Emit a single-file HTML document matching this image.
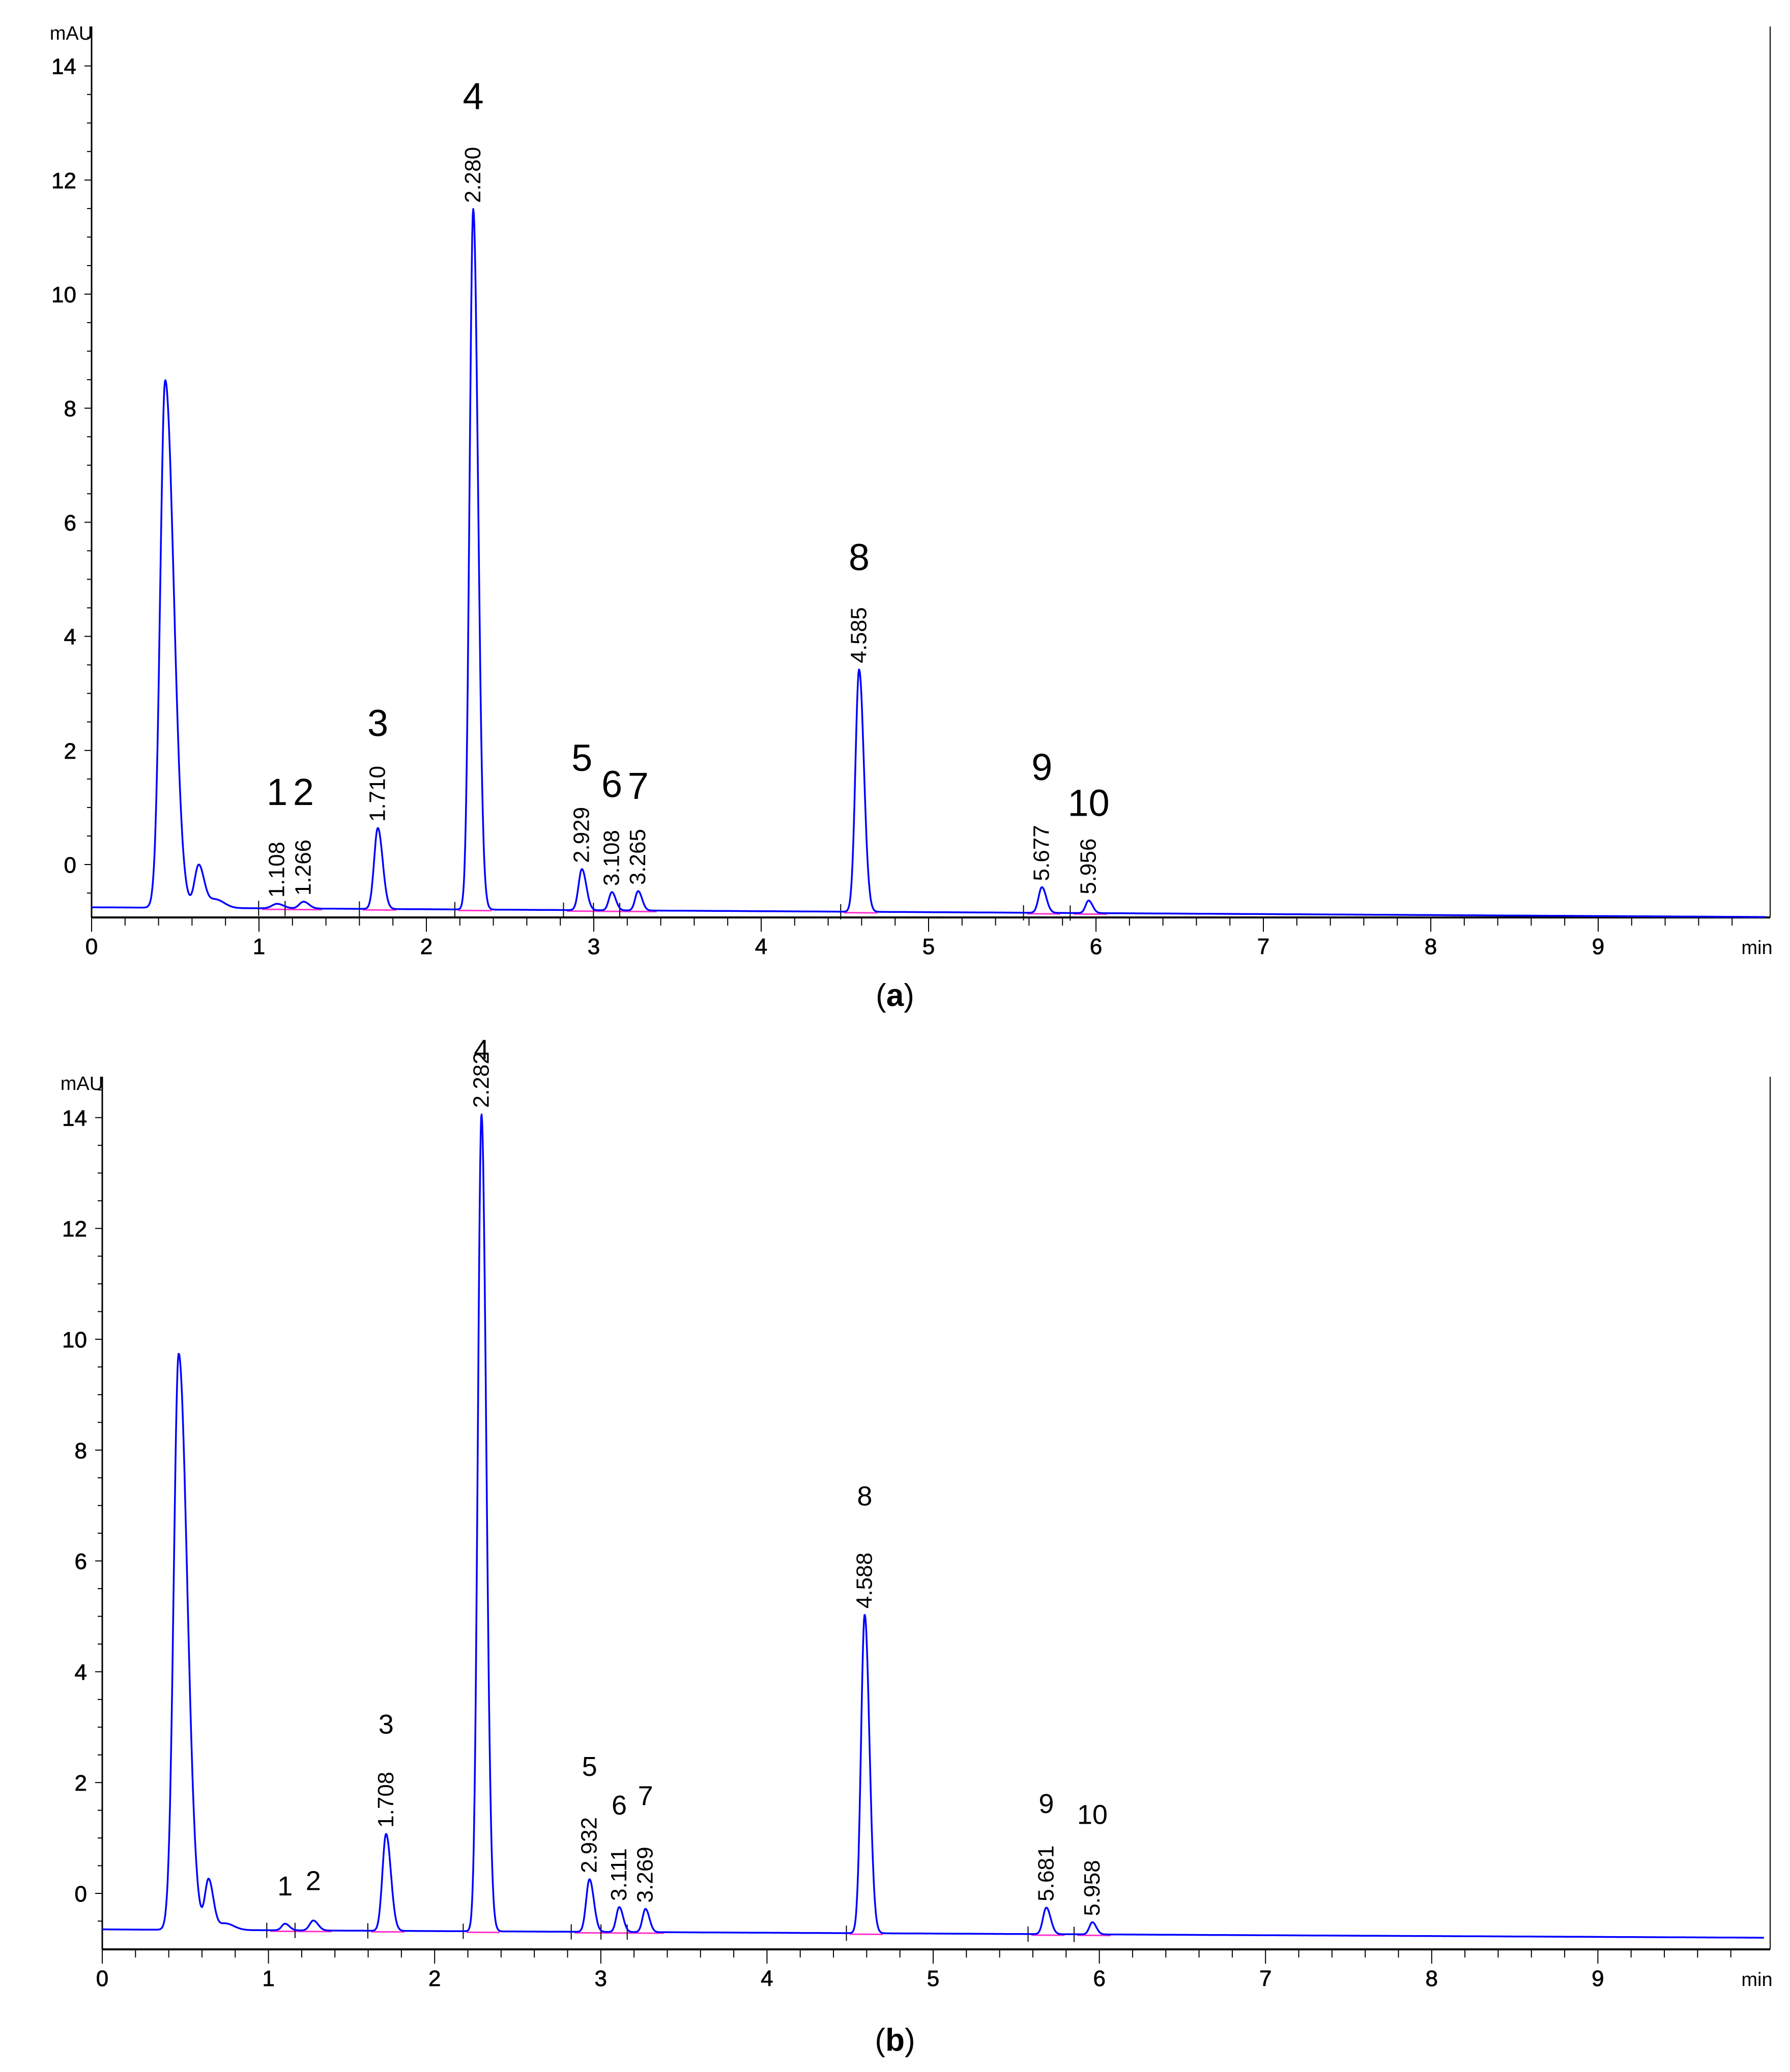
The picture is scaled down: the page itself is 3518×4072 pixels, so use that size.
<!DOCTYPE html>
<html><head><meta charset="utf-8">
<style>
html,body{margin:0;padding:0;background:#fff;}
svg{display:block;}
text{font-family:"Liberation Sans",Arial,sans-serif;}
</style></head>
<body>
<svg id="fig" width="3518" height="4072" viewBox="0 0 3518 4072" xmlns="http://www.w3.org/2000/svg"></svg>
<script>
// ---- Data: chromatogram (a) ----
const peakTimesA = [0.44, 0.64, 0.74, 1.108, 1.266, 1.710, 2.280, 2.929, 3.108, 3.265, 4.585, 5.677, 5.956];
const peakHeightsA = [9.25, 0.75, 0.15, 0.08, 0.12, 1.42, 12.28, 0.72, 0.32, 0.34, 4.25, 0.45, 0.22];
const peakWidthsA = [0.03, 0.025, 0.04, 0.03, 0.025, 0.022, 0.022, 0.02, 0.018, 0.018, 0.022, 0.02, 0.018];
const baselineStartA = -0.75, baselineEndA = -0.92;
const labelsA = ["1","2","3","4","5","6","7","8","9","10"];
const labelTimesA = [1.108,1.266,1.710,2.280,2.929,3.108,3.265,4.585,5.677,5.956];
const rtTextA = ["1.108","1.266","1.710","2.280","2.929","3.108","3.265","4.585","5.677","5.956"];
const labelYA = [1.28,1.28,2.49,13.48,1.88,1.42,1.39,5.40,1.72,1.09];

// ---- Data: chromatogram (b) ----
const peakTimesB = [0.46, 0.64, 0.74, 1.10, 1.27, 1.708, 2.282, 2.932, 3.111, 3.269, 4.588, 5.681, 5.958];
const peakHeightsB = [10.4, 0.9, 0.12, 0.12, 0.18, 1.75, 14.75, 0.95, 0.45, 0.42, 5.75, 0.48, 0.22];
const peakWidthsB = [0.03, 0.022, 0.04, 0.02, 0.022, 0.022, 0.022, 0.02, 0.018, 0.018, 0.022, 0.02, 0.018];
const baselineStartB = -0.65, baselineEndB = -0.80;
const labelsB = ["1","2","3","4","5","6","7","8","9","10"];
const labelTimesB = [1.10,1.27,1.708,2.282,2.932,3.111,3.269,4.588,5.681,5.958];
const rtTextB = ["","","1.708","2.282","2.932","3.111","3.269","4.588","5.681","5.958"];
const labelYB = [0.14,0.24,3.06,15.24,2.30,1.60,1.77,7.18,1.63,1.43];

const yTicks = [0,2,4,6,8,10,12,14];
const xTicks = [0,1,2,3,4,5,6,7,8,9];

const NS="http://www.w3.org/2000/svg";
const svg=document.getElementById('fig');
function mk(tag,attrs,parent){const e=document.createElementNS(NS,tag);for(const k in attrs)e.setAttribute(k,attrs[k]);(parent||svg).appendChild(e);return e;}

function drawPanel(cfg){
  const g=mk('g',{});
  
  
  const xs=t=>cfg.x0+t*cfg.pxMin;
  const ys=v=>cfg.y0-v*cfg.pxUnit;
  const ya=mk('line',{x1:cfg.x0,y1:cfg.top,x2:cfg.x0,y2:cfg.axisY,stroke:'#000','stroke-width':3},g);
  
  
  const xa=mk('line',{x1:cfg.x0,y1:cfg.axisY,x2:cfg.right,y2:cfg.axisY,stroke:'#000','stroke-width':4},g);
  
  
  const rb=mk('line',{x1:cfg.right,y1:cfg.top,x2:cfg.right,y2:cfg.axisY,stroke:'#000','stroke-width':2},g);
  
  
  for(let v=-0.5;v<=14.5;v+=0.5){
    const major=Math.abs(v-Math.round(v/2)*2)<1e-6;
    mk('line',{x1:cfg.x0-(major?14:9),y1:ys(v),x2:cfg.x0,y2:ys(v),stroke:'#000','stroke-width':2},g);
  }
  yTicks.forEach(v=>{
    const t=mk('text',{x:cfg.x0-30,y:ys(v)+16,'font-size':44,'text-anchor':'end',fill:'#000','stroke':'#000','stroke-width':0.8},g);
    t.textContent=v;
    
    
  });
  const mau=mk('text',{x:cfg.x0-40,y:cfg.top+26,'font-size':38,'text-anchor':'middle',fill:'#000'},g);
  mau.textContent='mAU';
  
  
  for(let i=0;i<=49;i++){
    const t=i*0.2, major=i%5===0;
    mk('line',{x1:xs(t),y1:cfg.axisY,x2:xs(t),y2:cfg.axisY+(major?28:16),stroke:'#000','stroke-width':2},g);
  }
  xTicks.forEach(v=>{
    const t=mk('text',{x:xs(v),y:cfg.axisY+72,'font-size':44,'text-anchor':'middle',fill:'#000','stroke':'#000','stroke-width':0.8},g);
    t.textContent=v;
    
    
  });
  const mn=mk('text',{x:cfg.right-26,y:cfg.axisY+72,'font-size':38,'text-anchor':'middle',fill:'#000'},g);
  mn.textContent='min';
  
  
  const base=t=>cfg.b0+(cfg.b1-cfg.b0)*(t/10);
  const sig=t=>{let v=base(t);for(let i=0;i<cfg.pt.length;i++){const d=t-cfg.pt[i];const s=cfg.pw[i]*(d>0?(i===0?1.7:1.3):1);v+=cfg.ph[i]*Math.exp(-d*d/(2*s*s));}return v;};
  cfg.lt.forEach((t,i)=>{
    const pl=mk('line',{x1:xs(t-0.09),y1:ys(base(t-0.09))+2,x2:xs(t+0.11),y2:ys(base(t+0.11))+2,stroke:'#ff33cc','stroke-width':3},g);
    
    
    mk('line',{x1:xs(t-0.11),y1:ys(base(t))-15,x2:xs(t-0.11),y2:ys(base(t))+15,stroke:'#000','stroke-width':2},g);
  });
  let d='';
  for(let t=0;t<=10.0;t+=0.003){const x=xs(t);if(x>cfg.right)break;d+=(d?'L':'M')+x.toFixed(1)+' '+ys(Math.min(sig(t),cfg.clip)).toFixed(1);}
  const p=mk('path',{d:d,fill:'none',stroke:'#0000ff','stroke-width':3.5,'stroke-linejoin':'round'},g);
  
  
  cfg.lt.forEach((t,i)=>{
    const top=ys(sig(t));
    if(cfg.rt[i]){
      const tx=mk('text',{transform:`translate(${xs(t)+14},${Math.min(top-12,ys(base(t))-20)}) rotate(-90)`,'font-size':44,fill:'#000'},g);
      tx.textContent=cfg.rt[i];
      
      
    }
    const n=mk('text',{x:xs(t),y:ys(cfg.ly[i])+cfg.numSize*0.36,'font-size':cfg.numSize,'text-anchor':'middle',fill:'#000'},g);
    n.textContent=cfg.lb[i];
    
    
  });
  const cap=mk('text',{x:cfg.capX,y:cfg.capY,'font-size':62,'text-anchor':'middle',fill:'#000','font-family':'Liberation Serif, serif'},g);
  cap.innerHTML='(<tspan font-weight="bold">'+cfg.cap+'</tspan>)';
  
  
}

drawPanel({name:'chromatogram-a',x0:180,pxMin:329,y0:1699,pxUnit:112.1,axisY:1803,top:52,right:3479,
  pt:peakTimesA,ph:peakHeightsA,pw:peakWidthsA,b0:baselineStartA,b1:baselineEndA,
  lt:labelTimesA,lb:labelsA,rt:rtTextA,ly:labelYA,numSize:74,clip:99,capX:1759,capY:1977,cap:'a'});
drawPanel({name:'chromatogram-b',x0:201,pxMin:326.6,y0:3721,pxUnit:108.9,axisY:3831,top:2116,right:3479,
  pt:peakTimesB,ph:peakHeightsB,pw:peakWidthsB,b0:baselineStartB,b1:baselineEndB,
  lt:labelTimesB,lb:labelsB,rt:rtTextB,ly:labelYB,numSize:54,clip:14.6,capX:1759,capY:4030,cap:'b'});
</script>
</body></html>
